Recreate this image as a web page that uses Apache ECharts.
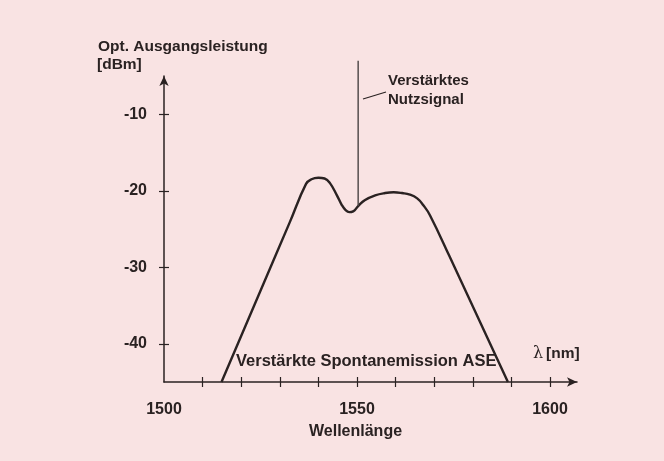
<!DOCTYPE html>
<html>
<head>
<meta charset="utf-8">
<script src="https://cdn.jsdelivr.net/npm/echarts@6/dist/echarts.min.js"></script>
<style>
  html, body { margin: 0; padding: 0; background: #f9e3e3; }
  #chart { width: 664px; height: 461px; }
</style>
</head>
<body>
<div id="chart"></div>
<script>
// ASE-Spektrum
const wavelength = [1514.9, 1532.6, 1536.8, 1538.2, 1540.0, 1541.6, 1543.0, 1544.8, 1546.0, 1547.0,
  1548.0, 1549.0, 1550.3, 1552.1, 1554.7, 1557.3, 1559.5, 1561.7, 1563.7, 1565.6, 1567.2, 1568.9, 1574.0, 1589.1]
const asePower = [-45, -24.1, -19.1, -18.5, -18.3, -18.4, -19.0, -20.6, -21.8, -22.5,
  -22.8, -22.7, -22.0, -21.2, -20.6, -20.3, -20.2, -20.3, -20.5, -21.0, -21.9, -23.2, -28.6, -45]

// Nutzsignal (Linie)
const signalWavelength = [1550.3, 1550.3]
const signalPower = [-22.0, -3]

// Achsen
const yTickValues = [-40, -30, -20, -10]
const xTickValues = [1510, 1520, 1530, 1540, 1550, 1560, 1570, 1580, 1590, 1600]
const xLabelValues = [1500, 1550, 1600]

const ink = '#2a2222'
const font = '"Liberation Sans", Arial, sans-serif'

const chart = echarts.init(document.getElementById('chart'))

const baseX = {
  type: 'value',
  min: 1500,
  max: 1607,
  position: 'bottom',
  splitLine: { show: false }
}
const baseY = {
  type: 'value',
  min: -45,
  max: -5,
  position: 'left',
  splitLine: { show: false }
}
const tickStyle = { color: ink, width: 1.2 }

const option = {
  backgroundColor: '#f9e3e3',
  animation: false,
  grid: { left: 164, right: 87, top: 76, bottom: 79 },
  xAxis: [
    {
      ...baseX,
      axisLine: {
        lineStyle: { color: ink, width: 1.5 },
        symbol: ['none', 'arrow'],
        symbolSize: [7, 10]
      },
      axisTick: { customValues: xTickValues, length: 5, lineStyle: tickStyle },
      axisLabel: {
        customValues: xLabelValues,
        formatter: v => String(v),
        margin: 20,
        color: ink,
        fontFamily: font,
        fontWeight: 'bold',
        fontSize: 16
      }
    },
    {
      ...baseX,
      axisLine: { show: false },
      axisTick: { customValues: xTickValues, inside: true, length: 5, lineStyle: tickStyle },
      axisLabel: { show: false }
    }
  ],
  yAxis: [
    {
      ...baseY,
      axisLine: {
        lineStyle: { color: ink, width: 1.5 },
        symbol: ['none', 'arrow'],
        symbolSize: [7, 10]
      },
      axisTick: { customValues: yTickValues, length: 5, lineStyle: tickStyle },
      axisLabel: {
        customValues: yTickValues,
        margin: 17,
        color: ink,
        fontFamily: font,
        fontWeight: 'bold',
        fontSize: 16
      }
    },
    {
      ...baseY,
      axisLine: { show: false },
      axisTick: { customValues: yTickValues, inside: true, length: 5, lineStyle: tickStyle },
      axisLabel: { show: false }
    }
  ],
  series: [
    {
      name: 'ASE',
      type: 'line',
      smooth: 0.45,
      showSymbol: false,
      data: wavelength.map((w, i) => [w, asePower[i]]),
      lineStyle: { color: ink, width: 2.4 }
    },
    {
      name: 'Nutzsignal',
      type: 'line',
      clip: false,
      showSymbol: false,
      data: signalWavelength.map((w, i) => [w, signalPower[i]]),
      lineStyle: { color: '#4a4444', width: 1.4 }
    }
  ],
  graphic: [
    { type: 'text', left: 98, top: 39, style: { text: 'Opt. Ausgangsleistung', font: 'bold 15.5px ' + font, fill: ink } },
    { type: 'text', left: 97, top: 57, style: { text: '[dBm]', font: 'bold 15.5px ' + font, fill: ink } },
    { type: 'text', left: 388, top: 73, style: { text: 'Verstärktes', font: 'bold 15px ' + font, fill: ink } },
    { type: 'text', left: 388, top: 92, style: { text: 'Nutzsignal', font: 'bold 15px ' + font, fill: ink } },
    { type: 'line', shape: { x1: 363, y1: 99, x2: 386, y2: 92 }, style: { stroke: ink, lineWidth: 1.2 } },
    { type: 'text', left: 236, top: 353, style: { text: 'Verstärkte Spontanemission ASE', font: 'bold 16.5px ' + font, fill: ink } },
    { type: 'text', left: 533, top: 346, style: { text: 'λ', font: '16px "DejaVu Serif", serif', fill: ink } },
    { type: 'text', left: 546, top: 346, style: { text: '[nm]', font: 'bold 15.5px ' + font, fill: ink } },
    { type: 'text', left: 309, top: 424, style: { text: 'Wellenlänge', font: 'bold 16px ' + font, fill: ink } }
  ]
}

chart.setOption(option)
</script>
</body>
</html>
